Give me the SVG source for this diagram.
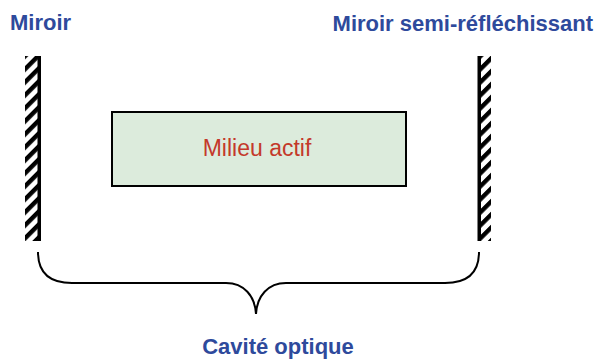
<svg xmlns="http://www.w3.org/2000/svg" width="598" height="360" viewBox="0 0 598 360">
  <style>
    .lbl { font-family: "Liberation Sans", Arial, sans-serif; font-weight: bold; font-size: 22px; fill: #2E4A9C; }
    .med { font-family: "Liberation Sans", Arial, sans-serif; font-size: 23px; fill: #C4392A; }
    .bar { fill: #000; }
    .hatch { fill: url(#stripes); }
    .brace { fill: none; stroke: #000; stroke-width: 2; }
  </style>
  <defs>
    <pattern id="stripes" patternUnits="userSpaceOnUse" width="9.2" height="20" patternTransform="rotate(45)">
      <rect x="0" y="0" width="4.4" height="20" fill="#000"/>
    </pattern>
  </defs>
  <rect width="598" height="360" fill="#fff"/>

  <g id="label-miroir">
    <text class="lbl" x="10" y="30">Miroir</text>
  </g>
  <g id="label-semi">
    <text class="lbl" x="593" y="31" text-anchor="end">Miroir semi-réfléchissant</text>
  </g>

  <g id="mirror-left">
    <rect class="hatch" x="25" y="56" width="13" height="185"/>
    <rect class="bar" x="37.5" y="56" width="3.5" height="185"/>
  </g>
  <g id="mirror-right">
    <rect class="hatch" x="481" y="56" width="10" height="185"/>
    <rect class="bar" x="477.5" y="56" width="3.5" height="185"/>
  </g>

  <g id="milieu-actif">
    <rect x="112" y="112" width="294" height="74" fill="#DCEBDC" stroke="#000" stroke-width="2"/>
    <text class="med" x="257" y="156" text-anchor="middle">Milieu actif</text>
  </g>

  <g id="connectors">
    <path class="brace" d="M38,252 C38,273 50,283 72,283 L226,283 C244,283 255,296 256,314 C257,296 268,283 286,283 L445,283 C467,283 479,273 479,252"/>
  </g>

  <g id="label-cavite">
    <text class="lbl" x="278" y="354" text-anchor="middle">Cavité optique</text>
  </g>
</svg>
